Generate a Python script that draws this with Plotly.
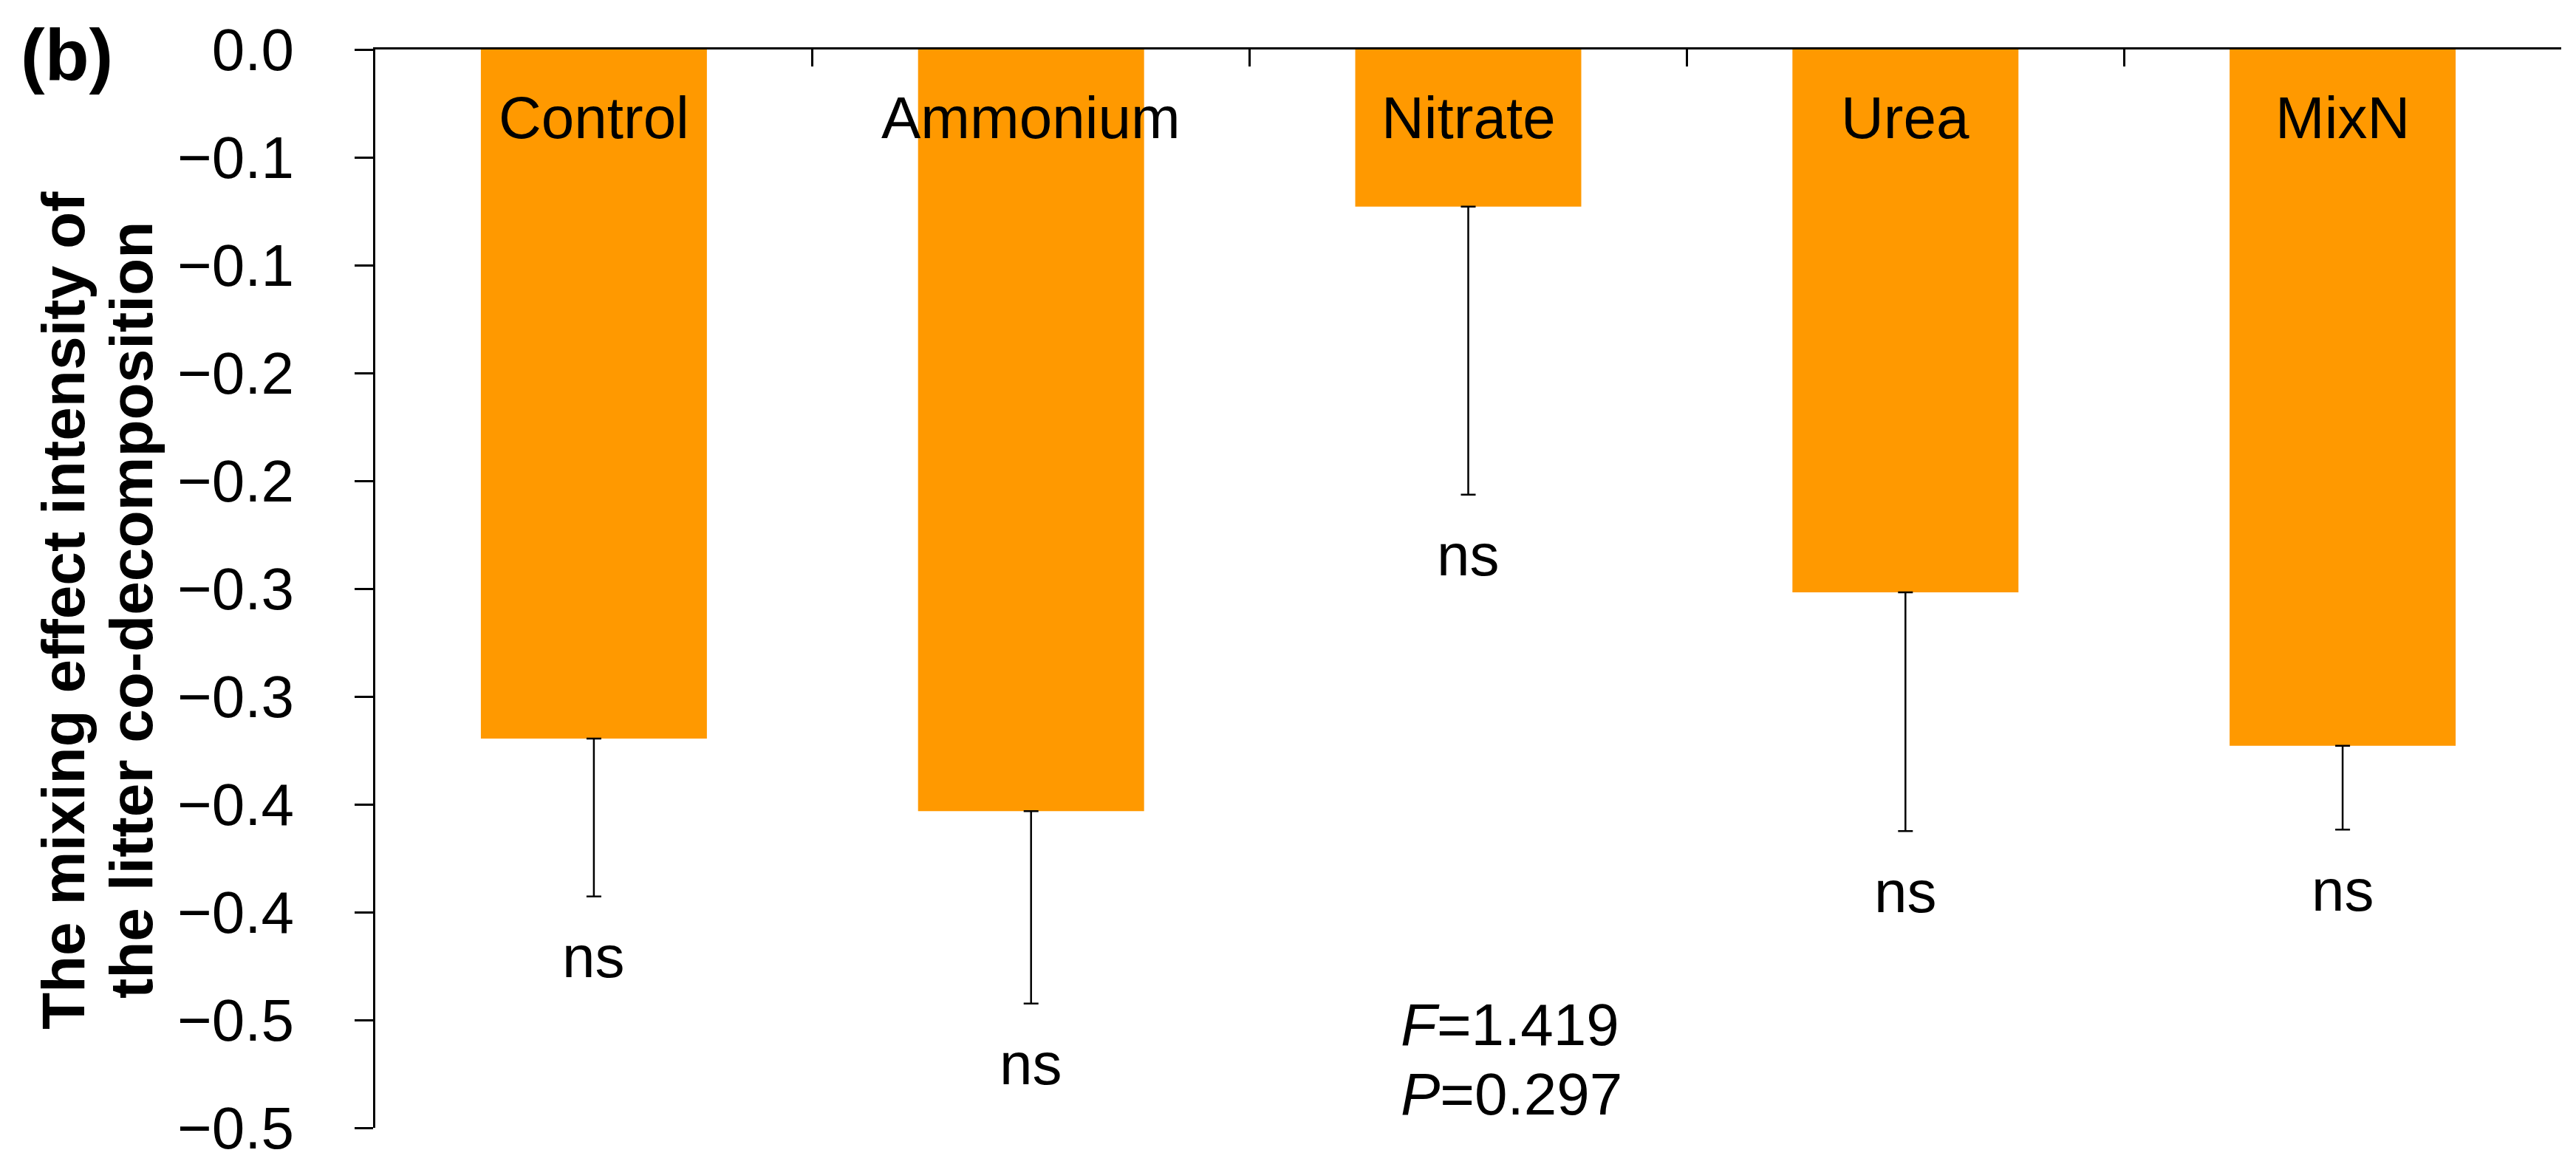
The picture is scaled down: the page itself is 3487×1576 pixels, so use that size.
import plotly.graph_objects as go

categories = ["Control", "Ammonium", "Nitrate", "Urea", "MixN"]
means = [-0.3195, -0.3532, -0.0729, -0.2517, -0.3229]
errors = [0.0732, 0.0892, 0.1335, 0.1107, 0.0388]
sig_labels = ["ns", "ns", "ns", "ns", "ns"]
tick_vals = [0, -0.05, -0.1, -0.15, -0.2, -0.25, -0.3, -0.35, -0.4, -0.45, -0.5]
tick_text = ["0.0", "−0.1", "−0.1", "−0.2", "−0.2", "−0.3", "−0.3", "−0.4", "−0.4", "−0.5", "−0.5"]
stat_lines = ["<i>F</i>=1.419", "<i>P</i>=0.297"]
ytitle_lines = ["The mixing effect intensity of", "the litter co-decomposition"]

FONT = "Liberation Sans, Arial, sans-serif"
BAR_COLOR = "#FF9900"

fig = go.Figure()
fig.add_trace(go.Bar(
    x=categories, y=means,
    marker=dict(color=BAR_COLOR, line=dict(width=0)),
    error_y=dict(type="data", symmetric=False,
                 array=[0] * len(errors), arrayminus=errors,
                 color="black", thickness=2.5, width=10),
    showlegend=False,
))

annotations = []
for c in categories:
    annotations.append(dict(x=c, y=0, xref="x", yref="y", text=c, showarrow=False,
                            yanchor="middle", yshift=-92,
                            font=dict(family=FONT, size=80, color="black")))
for c, m, e, s in zip(categories, means, errors, sig_labels):
    annotations.append(dict(x=c, y=m - e, xref="x", yref="y", text=s, showarrow=False,
                            yanchor="middle", yshift=-82,
                            font=dict(family=FONT, size=80, color="black")))
for i, line in enumerate(stat_lines):
    annotations.append(dict(x=0.4684, y=0.0954 - i * 0.064, xref="paper", yref="paper",
                            text=line, showarrow=False, xanchor="left", yanchor="middle",
                            font=dict(family=FONT, size=80, color="black")))
title_x = [-0.1430, -0.1119]
for i, line in enumerate(ytitle_lines):
    annotations.append(dict(x=title_x[i], y=0.480, xref="paper", yref="paper",
                            text="<b>" + line + "</b>", showarrow=False, textangle=-90,
                            xanchor="center", yanchor="middle",
                            font=dict(family=FONT, size=82, color="black")))
annotations.append(dict(x=-0.1629, y=0.9952, xref="paper", yref="paper", text="<b>(b)</b>",
                        showarrow=False, xanchor="left", yanchor="middle",
                        font=dict(family=FONT, size=98, color="black")))

fig.update_layout(
    width=3487, height=1576,
    margin=dict(l=500, r=28, t=59, b=49),
    paper_bgcolor="white", plot_bgcolor="white",
    bargap=0.483,
    annotations=annotations,
    xaxis=dict(side="top", showline=True, linecolor="black", linewidth=3,
               ticks="inside", ticklen=23, tickwidth=3, tickcolor="black",
               tickson="boundaries", showticklabels=False, showgrid=False,
               zeroline=False),
    yaxis=dict(range=[-0.5, 0], showline=True, linecolor="black", linewidth=3,
               ticks="outside", ticklen=25, tickwidth=3, tickcolor="black",
               tickvals=tick_vals, ticktext=tick_text, showgrid=False, zeroline=False,
               ticklabelstandoff=66,
               tickfont=dict(family=FONT, size=80, color="black")),
)

fig.write_html("out.html")
